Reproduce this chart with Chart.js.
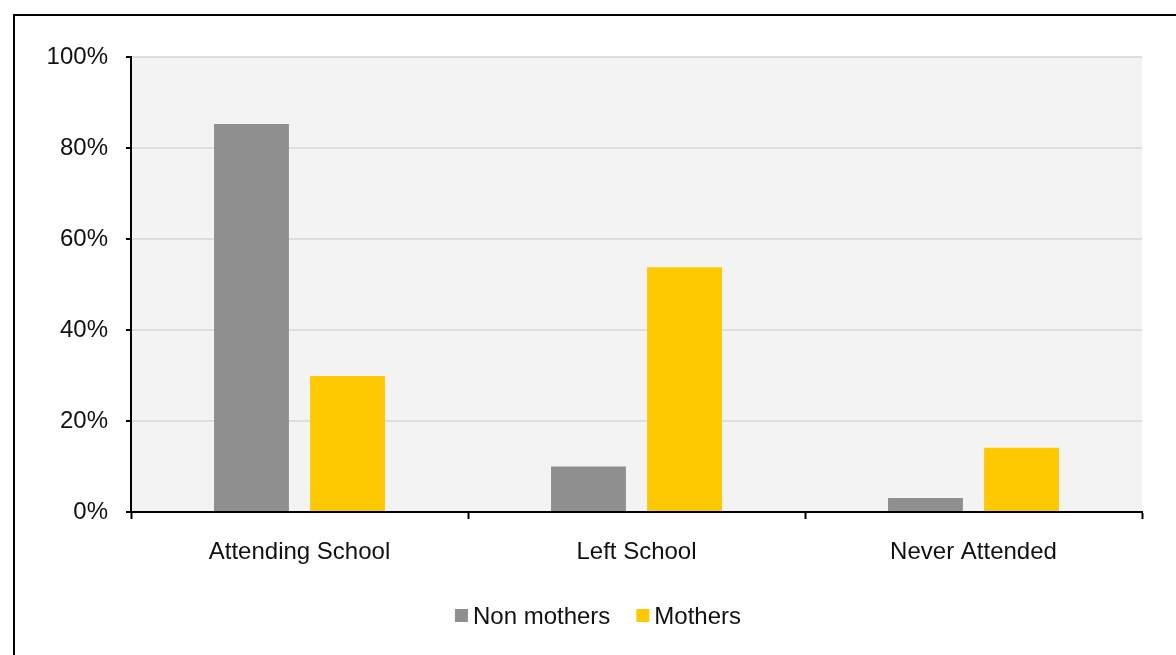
<!DOCTYPE html>
<html>
<head>
<meta charset="utf-8">
<script src="https://cdn.jsdelivr.net/npm/chart.js@4"></script>
<style>
  html, body { margin: 0; padding: 0; background: #fff; }
  #wrap { width: 1176px; height: 655px; position: relative; }
</style>
</head>
<body>
<div id="wrap"><canvas id="schoolChart" width="1176" height="655"></canvas></div>
<script>
const categories = ["Attending School", "Left School", "Never Attended"];
const nonMothers = [85.3, 10.0, 3.1];
const mothers = [29.9, 53.8, 14.1];
const seriesNames = ["Non mothers", "Mothers"];
const seriesColors = ["#8f8f8f", "#ffc900"];
const yTicks = [0, 20, 40, 60, 80, 100];

const FONT = "'Liberation Sans', Arial, sans-serif";

// grey plot background + outer frame
const backdrop = {
  id: "backdrop",
  beforeDraw(chart) {
    const { ctx, chartArea: a } = chart;
    ctx.save();
    ctx.fillStyle = "#fff";
    ctx.fillRect(0, 0, chart.width, chart.height);
    ctx.fillStyle = "#f3f3f3";
    ctx.fillRect(a.left, a.top, a.right - a.left, a.bottom - a.top);
    ctx.strokeStyle = "#000";
    ctx.lineWidth = 2;
    ctx.beginPath();
    ctx.moveTo(14, chart.height);
    ctx.lineTo(14, 15);
    ctx.lineTo(chart.width, 15);
    ctx.stroke();
    ctx.restore();
  }
};

// legend drawn by hand so the box/text gap matches
const legendRow = {
  id: "legendRow",
  afterDraw(chart) {
    const { ctx } = chart;
    ctx.save();
    ctx.font = "24px " + FONT;
    ctx.textBaseline = "middle";
    const box = 13, gap = 5, between = 26;
    const items = chart.data.datasets.map(d => ({ text: d.label, color: d.backgroundColor }));
    let total = 0;
    items.forEach((it, i) => {
      it.w = ctx.measureText(it.text).width;
      total += box + gap + it.w + (i < items.length - 1 ? between : 0);
    });
    let x = 598 - total / 2;
    const y = 617;
    items.forEach(it => {
      ctx.fillStyle = it.color;
      ctx.fillRect(x, y - 8, box, box);
      ctx.fillStyle = "#111";
      ctx.fillText(it.text, x + box + gap, y);
      x += box + gap + it.w + between;
    });
    ctx.restore();
  }
};

new Chart(document.getElementById("schoolChart"), {
  type: "bar",
  data: {
    labels: categories,
    datasets: [
      { label: seriesNames[0], data: nonMothers, backgroundColor: seriesColors[0] },
      { label: seriesNames[1], data: mothers, backgroundColor: seriesColors[1] }
    ]
  },
  options: {
    responsive: false,
    animation: false,
    layout: { padding: { top: 57, right: 34, left: 0, bottom: 0 } },
    categoryPercentage: 0.57,
    barPercentage: 0.78,
    plugins: {
      legend: { display: false },
      tooltip: { enabled: false }
    },
    scales: {
      x: {
        afterFit(scale) { scale.height = 143; },
        grid: {
          offset: true,
          drawOnChartArea: false,
          tickLength: 7,
          tickColor: "#000",
          tickWidth: 2
        },
        border: { color: "#000", width: 2 },
        ticks: { color: "#111", padding: 19, font: { family: FONT, size: 24 } }
      },
      y: {
        min: 0,
        max: 100,
        afterFit(scale) { scale.width = 131; },
        afterBuildTicks(scale) { scale.ticks = yTicks.map(v => ({ value: v })); },
        grid: {
          color: "#dedede",
          lineWidth: 2,
          tickLength: 5,
          tickColor: "#000",
          tickWidth: 2
        },
        border: { color: "#000", width: 2 },
        ticks: {
          color: "#111",
          padding: 18,
          font: { family: FONT, size: 24 },
          callback: v => v + "%"
        }
      }
    }
  },
  plugins: [backdrop, legendRow]
});
</script>
</body>
</html>
